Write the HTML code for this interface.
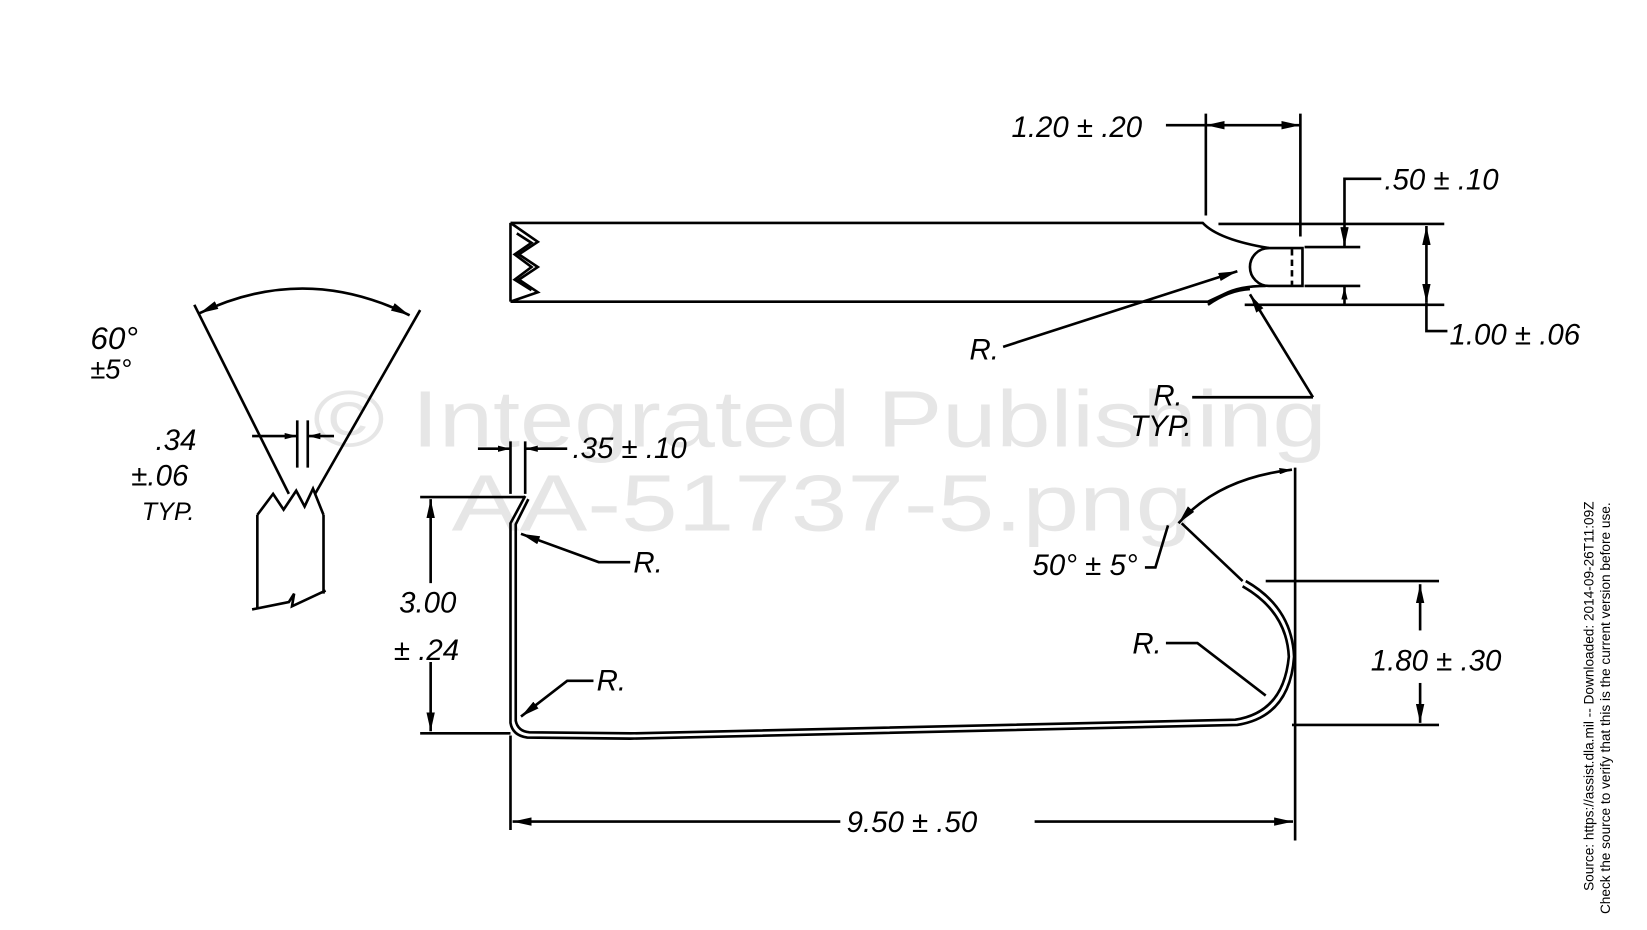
<!DOCTYPE html>
<html><head><meta charset="utf-8"><style>
html,body{margin:0;padding:0;background:#fff;}
svg{display:block}
text{font-family:"Liberation Sans",sans-serif;fill:#000;font-style:oblique}
</style></head><body>
<svg width="1647" height="930" viewBox="0 0 1568 885" xmlns="http://www.w3.org/2000/svg">
<defs>
<marker id="a" viewBox="0 0 12 6" refX="12" refY="3" markerWidth="12" markerHeight="6" orient="auto-start-reverse" markerUnits="userSpaceOnUse"><path d="M0,0L12,3L0,6z" fill="#000"/></marker>
<marker id="b" viewBox="0 0 18 8" refX="18" refY="4" markerWidth="18" markerHeight="8" orient="auto-start-reverse" markerUnits="userSpaceOnUse"><path d="M0,0L18,4L0,8z" fill="#000"/></marker>
</defs>
<g font-size="76">
<text x="298" y="425" textLength="965" lengthAdjust="spacingAndGlyphs" style="fill:#e6e6e6;font-style:normal">© Integrated Publishing</text>
<text x="430" y="505" textLength="705" lengthAdjust="spacingAndGlyphs" style="fill:#e6e6e6;font-style:normal">AA-51737-5.png</text>
</g>
<g fill="none" stroke="#000" stroke-width="2.5">
<path d="M486,212 L1145,212 Q1160,228 1208,236"/>
<path d="M486,287 L1150,287 L1165,280 Q1180,272 1205,272"/>
<path d="M486,212 L486,287"/>
<path d="M486,212 L512,230 L494,242 L512,254 L494,266 L512,278 L486,287"/>
<path d="M492,222 L506,231 L490,242 L506,254 L490,266 L506,276"/>
<path d="M1208,236 A18,18 0 0 0 1208,272 L1240,272 L1240,236 Z"/>
<path d="M1230,237 L1230,271" stroke-dasharray="6,4"/>
<path d="M1150,290 Q1170,276 1190,275"/>
<path d="M1160,213 L1375,213"/>
<path d="M1185,290 L1375,290"/>
<path d="M1242,235 L1295,235"/>
<path d="M1242,272 L1295,272"/>
<path d="M1148,108 L1148,205"/>
<path d="M1238,108 L1238,225"/>
<path d="M1110,119 L1148,119"/>
<path d="M1148,119 L1238,119" marker-start="url(#b)" marker-end="url(#b)"/>
<path d="M1358,215 L1358,288" marker-start="url(#b)" marker-end="url(#b)"/>
<path d="M1358,288 L1358,315 L1378,315"/>
<path d="M1315,170 L1280,170 L1280,234" marker-end="url(#b)"/>
<path d="M1280,290 L1280,273" marker-end="url(#a)"/>
<path d="M955,330 L1178,258" marker-end="url(#b)"/>
<path d="M1250,378 L1190,280" marker-end="url(#b)"/>
<path d="M1250,378 L1135,378"/>
<path d="M185,290 L275,470"/>
<path d="M400,295 L300,470"/>
<path d="M190,298 Q290,250 390,300" marker-start="url(#b)" marker-end="url(#b)"/>
<path d="M283,400 L283,445"/>
<path d="M293,400 L293,445"/>
<path d="M240,415 L283,415" marker-end="url(#a)"/>
<path d="M318,415 L293,415" marker-end="url(#a)"/>
<path d="M245,490 L260,470 L270,485 L282,467 L290,482 L298,465 L308,490"/>
<path d="M245,490 L245,580"/>
<path d="M308,490 L308,565"/>
<path d="M240,580 L275,573 L280,565 L278,577 L310,562"/>
<path d="M500,472 L486,498 L486,688 Q488,700 502,702 L600,703 L1178,690 Q1228,682 1232,625 Q1230,578 1186,553"/>
<path d="M503,475 L491,499 L491,686 Q493,696 504,697 L600,698 L1176,685 Q1222,678 1227,625 Q1225,582 1183,558"/>
<path d="M486,420 L486,470"/>
<path d="M500,420 L500,470"/>
<path d="M455,427 L486,427" marker-end="url(#a)"/>
<path d="M540,427 L500,427" marker-end="url(#a)"/>
<path d="M400,473 L500,473"/>
<path d="M400,698 L486,698"/>
<path d="M410,475 L410,555" marker-start="url(#b)"/>
<path d="M410,630 L410,696" marker-end="url(#b)"/>
<path d="M600,535 L570,535 L496,508" marker-end="url(#b)"/>
<path d="M565,648 L540,648 L496,682" marker-end="url(#b)"/>
<path d="M1110,612 L1140,612 L1205,662"/>
<path d="M486,700 L486,790"/>
<path d="M1233,445 L1233,800"/>
<path d="M800,782 L488,782" marker-end="url(#b)"/>
<path d="M985,782 L1231,782" marker-end="url(#b)"/>
<path d="M1230,447 Q1160,455 1122,498" marker-start="url(#a)" marker-end="url(#b)"/>
<path d="M1125,498 L1183,553"/>
<path d="M1090,540 L1100,540 L1112,500"/>
<path d="M1205,553 L1370,553"/>
<path d="M1230,690 L1370,690"/>
<path d="M1352,600 L1352,556" marker-end="url(#b)"/>
<path d="M1352,650 L1352,688" marker-end="url(#b)"/>
</g>
<g font-size="28">
<text x="963" y="130">1.20 ± .20</text>
<text x="1318" y="180">.50 ± .10</text>
<text x="1380" y="328">1.00 ± .06</text>
<text x="923" y="342">R.</text>
<text x="1098" y="386">R.</text>
<text x="1076" y="415">TYP.</text>
<text x="86" y="332" font-size="30">60°</text>
<text x="86" y="360" font-size="26">±5°</text>
<text x="148" y="428">.34</text>
<text x="125" y="462">±.06</text>
<text x="135" y="495" font-size="24">TYP.</text>
<text x="545" y="436">.35 ± .10</text>
<text x="380" y="583">3.00</text>
<text x="375" y="628">± .24</text>
<text x="603" y="545">R.</text>
<text x="568" y="657">R.</text>
<text x="983" y="547">50° ± 5°</text>
<text x="1078" y="622">R.</text>
<text x="1305" y="638">1.80 ± .30</text>
<text x="806" y="792">9.50 ± .50</text>
</g>
<g font-size="13">
<text transform="translate(1517,848) rotate(-90)" style="font-style:normal">Source: https://assist.dla.mil -- Downloaded: 2014-09-26T11:09Z</text>
<text transform="translate(1533,870) rotate(-90)" style="font-style:normal">Check the source to verify that this is the current version before use.</text>
</g>
</svg>
</body></html>
